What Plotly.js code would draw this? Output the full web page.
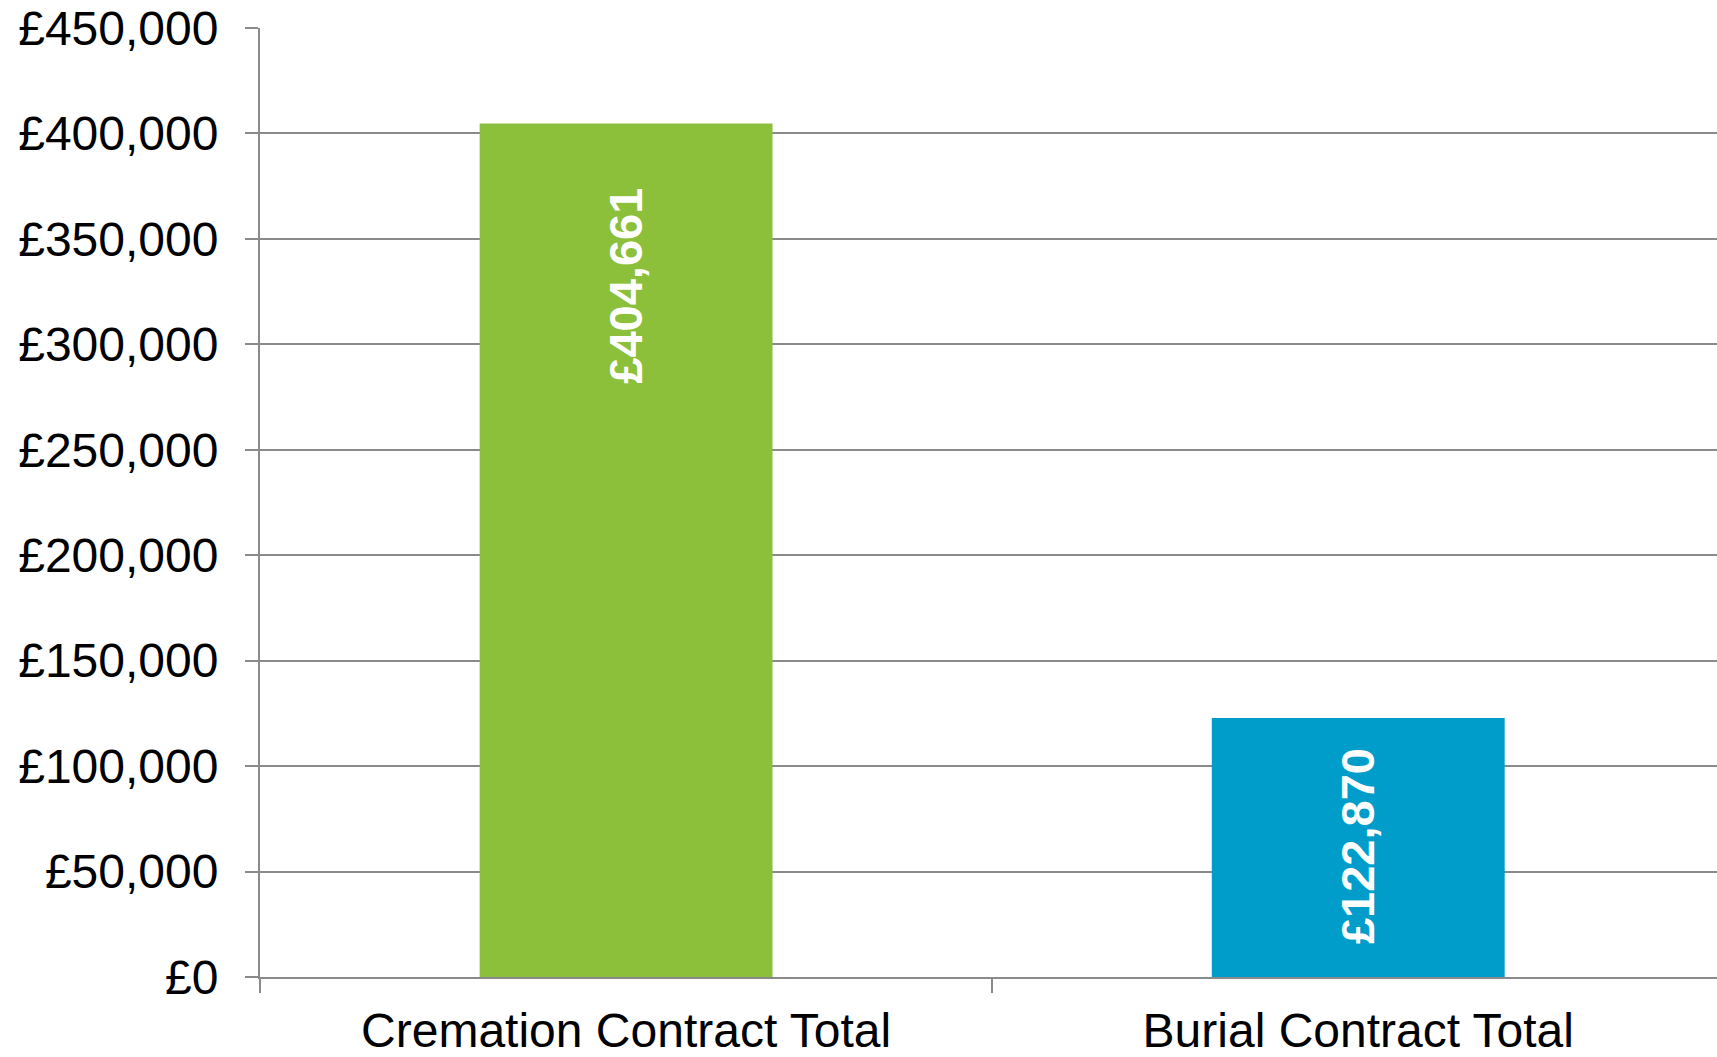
<!DOCTYPE html>
<html>
<head>
<meta charset="utf-8">
<script src="https://cdn.plot.ly/plotly-3.0.1.min.js"></script>
<style>html,body{margin:0;padding:0;background:#fff;overflow:hidden}#chart{width:1717px;height:1057px}</style>
</head>
<body>
<div id="chart"></div>
<script>
const categories = ["Cremation Contract Total", "Burial Contract Total"];
const values = [404661, 122870];
const barColors = ["#8CC03A", "#009DCB"];
const labelShifts = [-62, -28];
const yTickVals = [0, 50000, 100000, 150000, 200000, 250000, 300000, 350000, 400000, 450000];
const yTickText = ["£0", "£50,000", "£100,000", "£150,000", "£200,000", "£250,000", "£300,000", "£350,000", "£400,000", "£450,000"];

function fmt(v) { return "£" + v.toLocaleString("en-GB"); }

const traces = categories.map((c, i) => ({
  type: "bar",
  x: [c],
  y: [values[i]],
  marker: { color: barColors[i], line: { width: 0 } },
  width: 0.4,
  hoverinfo: "skip",
  showlegend: false
}));

const annotations = categories.map((c, i) => ({
  x: c,
  y: values[i],
  xref: "x",
  yref: "y",
  text: "<b>" + fmt(values[i]) + "</b>",
  textangle: -90,
  showarrow: false,
  xanchor: "center",
  yanchor: "top",
  yshift: labelShifts[i],
  font: { family: "Liberation Sans, Arial, sans-serif", size: 47, color: "#ffffff" }
}));

const gridCol = "#8a8a8a";
const layout = {
  width: 1717,
  height: 1057,
  margin: { l: 260, r: 0, t: 28, b: 80, pad: 0 },
  paper_bgcolor: "#ffffff",
  plot_bgcolor: "#ffffff",
  barmode: "overlay",
  font: { family: "Liberation Sans, Arial, sans-serif", size: 48, color: "#000000" },
  xaxis: {
    type: "category",
    range: [-0.5, 1.49],
    showgrid: false,
    showline: true,
    linecolor: gridCol,
    linewidth: 2,
    ticks: "outside",
    tickson: "boundaries",
    ticklen: 14,
    tickwidth: 1.5,
    tickcolor: gridCol,
    ticklabelstandoff: 10,
    tickfont: { size: 48, color: "#000000" },
    zeroline: false
  },
  yaxis: {
    range: [0, 450000],
    tickmode: "array",
    tickvals: yTickVals,
    ticktext: yTickText,
    showgrid: true,
    gridcolor: gridCol,
    gridwidth: 2,
    showline: true,
    linecolor: gridCol,
    linewidth: 2,
    ticks: "outside",
    ticklen: 13,
    tickwidth: 2,
    tickcolor: gridCol,
    ticklabelstandoff: 17,
    tickfont: { size: 48, color: "#000000" },
    zeroline: false
  },
  annotations: annotations
};

Plotly.newPlot("chart", traces, layout, { displayModeBar: false, staticPlot: true });
</script>
</body>
</html>
